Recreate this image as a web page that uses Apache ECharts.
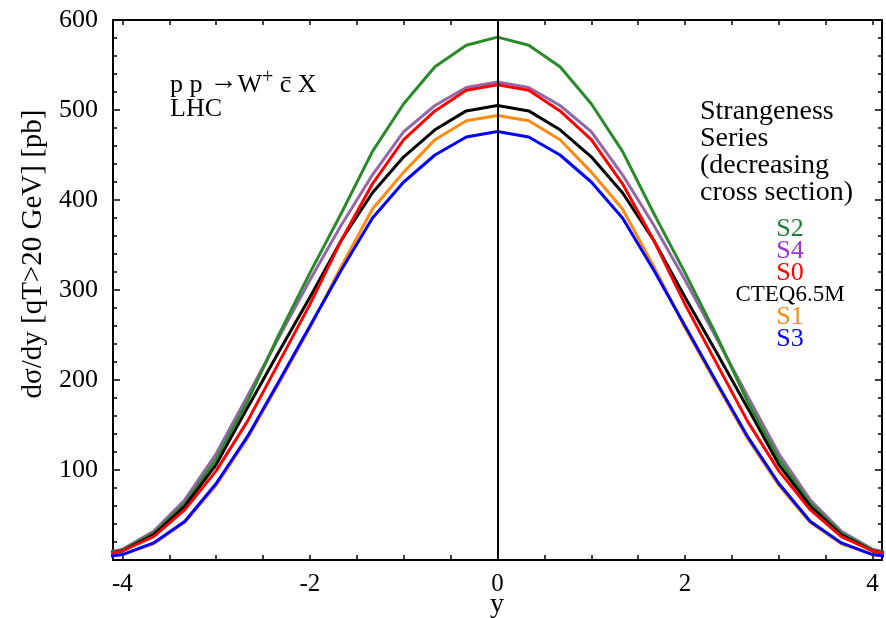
<!DOCTYPE html>
<html>
<head>
<meta charset="utf-8">
<script src="https://cdn.jsdelivr.net/npm/echarts@6/dist/echarts.min.js"></script>
<style>
html,body{margin:0;padding:0;background:#fff;}
#chart{width:886px;height:618px;}
</style>
</head>
<body>
<div id="chart"></div>
<script>
// rapidity points (step 1/3)
const rapidity = [-4.333,-4,-3.667,-3.333,-3,-2.667,-2.333,-2,-1.667,-1.333,-1,-0.667,-0.333,0,0.333,0.667,1,1.333,1.667,2,2.333,2.667,3,3.333,3.667,4,4.333];
const s2   = [4,11,30,63,112,176,250,319,385,454,507,548,572,581,572,548,507,454,385,319,250,176,112,63,30,11,4];
const s4   = [4,12,32,67,118,182,247,311,372,428,476,505,525,531,525,505,476,428,372,311,247,182,118,67,32,12,4];
const s0   = [3,10,26,56,99,154,219,284,355,418,467,499,522,528,522,499,467,418,355,284,219,154,99,56,26,10,3];
const cteq = [3,10,28,60,106,169,231,292,355,408,448,478,499,505,499,478,448,408,355,292,231,169,106,60,28,10,3];
const s1   = [1.5,6,18,42,83,135,196,258,326,390,431,467,488,494,488,467,431,390,326,258,196,135,83,42,18,6,1.5];
const s3   = [1.5,6,19,43,85,137,198,260,322,380,420,450,470,476,470,450,420,380,322,260,198,137,85,43,19,6,1.5];
const xTickLabels = [-4,-2,0,2,4];
const xTicks = [-4,-3.5,-3,-2.5,-2,-1.5,-1,-0.5,0,0.5,1,1.5,2,2.5,3,3.5,4];
const legendNames = ['S2','S4','S0','CTEQ6.5M','S1','S3'];

const FONT = '"Liberation Serif","Times New Roman",serif';
const pair = arr => rapidity.map((x,i)=>[x,arr[i]]);

const chart = echarts.init(document.getElementById('chart'), null, {renderer:'canvas'});

const xBase = {
  type:'value', min:-4.1, max:4.1,
  axisLine:{show:true,onZero:false,lineStyle:{color:'#000',width:2}},
  axisTick:{show:true,inside:true,length:5,customValues:xTicks,lineStyle:{color:'#000',width:1.5}},
  splitLine:{show:false}
};
const yBase = {
  type:'value', min:0, max:600, interval:100,
  axisLine:{show:true,onZero:false,lineStyle:{color:'#000',width:2}},
  axisTick:{show:true,inside:true,length:7,lineStyle:{color:'#000',width:1.5}},
  minorTick:{show:true,splitNumber:5,length:4,lineStyle:{color:'#000',width:1.5}},
  splitLine:{show:false}
};

function mkSeries(name, data, color){
  return {name, type:'line', data:pair(data), showSymbol:false, symbol:'none',
    lineStyle:{color, width:3}, itemStyle:{color}, clip:true, animation:false};
}

const series = [
  mkSeries('S4', s4, '#9467a8'),
  mkSeries('S2', s2, '#2a8a2a'),
  mkSeries('CTEQ6.5M', cteq, '#000000'),
  mkSeries('S0', s0, '#ff0000'),
  mkSeries('S1', s1, '#ff8a10'),
  mkSeries('S3', s3, '#0000ff')
];
series[0].markLine = {silent:true, symbol:'none', animation:false, label:{show:false},
  lineStyle:{color:'#000', width:2, type:'solid'}, data:[{xAxis:0}]};

const legendColors = ['#1e7d3a','#9a34d0','#ff0000','#000000','#ff8a10','#0000ff'];
const legendY = [229,251,273,295,317,339];
const legendGraphics = legendNames.map((n,i)=>({
  type:'text', x:790, y:legendY[i],
  style:{text:n, fill:legendColors[i], font:(n==='CTEQ6.5M'?'23px ':'26px ')+FONT, textAlign:'center', textVerticalAlign:'middle'}
}));

chart.setOption({
  backgroundColor:'#fff',
  animation:false,
  grid:{left:113,right:4,top:20,bottom:58,show:false,containLabel:false,outerBoundsMode:'none'},
  xAxis:[
    Object.assign({}, xBase, {position:'bottom',
      axisLabel:{show:true,customValues:xTickLabels,margin:12,color:'#000',fontFamily:FONT,fontSize:25}}),
    Object.assign({}, xBase, {position:'top', axisLabel:{show:false}})
  ],
  yAxis:[
    Object.assign({}, yBase, {position:'left',
      axisLabel:{show:true,margin:15,color:'#000',fontFamily:FONT,fontSize:26,formatter:v=>v===0?'':String(v)}}),
    Object.assign({}, yBase, {position:'right', axisLabel:{show:false}})
  ],
  series,
  graphic:[
    {type:'text', x:497, y:605,
      style:{text:'y', fill:'#000', font:'28px '+FONT, textAlign:'center', textVerticalAlign:'middle'}},
    {type:'text', x:33, y:254, rotation:Math.PI/2,
      style:{text:'dσ/dy [qT>20 GeV] [pb]', fill:'#000', font:'29px '+FONT, textAlign:'center', textVerticalAlign:'middle'}},
    {type:'text', x:170, y:68,
      style:{text:'{a|p p}{arr| →}{a|W}{sup|+}{a| c̄ X}', fill:'#000', font:'26px '+FONT,
        rich:{
          a:{fontSize:26,fontFamily:FONT,lineHeight:30,verticalAlign:'bottom'},
          arr:{fontSize:28,fontFamily:FONT,lineHeight:30,verticalAlign:'middle',padding:[0,0,2,0]},
          sup:{fontSize:20,fontFamily:FONT,lineHeight:20,verticalAlign:'top'}
        }}},
    {type:'text', x:170, y:109,
      style:{text:'LHC', fill:'#000', font:'26px '+FONT, textAlign:'left', textVerticalAlign:'middle'}},
    {type:'text', x:700, y:98,
      style:{text:'Strangeness\nSeries\n(decreasing\ncross section)', fill:'#000', font:'28px '+FONT, lineHeight:27, textAlign:'left', textVerticalAlign:'top'}}
  ].concat(legendGraphics)
});
</script>
</body>
</html>
